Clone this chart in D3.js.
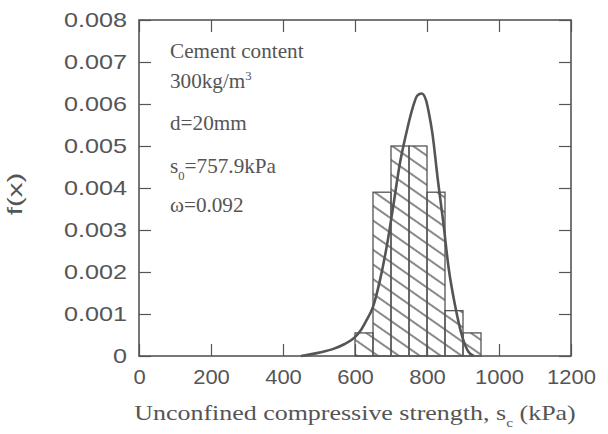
<!DOCTYPE html>
<html>
<head>
<meta charset="utf-8">
<script src="https://cdn.jsdelivr.net/npm/d3@7"></script>
<style>
  body { margin: 0; background: #fff; }
  svg { display: block; }
</style>
</head>
<body>
<svg width="608" height="434"></svg>
<script>
// histogram bins (kPa) and their density
const binLo = [600, 650, 700, 750, 800, 850, 900];
const binHi = [650, 700, 750, 800, 850, 900, 950];
const density = [0.00055, 0.0039, 0.005, 0.005, 0.0039, 0.00108, 0.00055];

// fitted curve
const curveX = [450, 500, 540, 570, 600, 615, 630, 650, 670, 690, 705, 725, 745, 760, 773, 785, 797, 805, 815, 830, 845, 860, 878, 900, 915, 930];
const curveY = [0, 0.00008, 0.00017, 0.00028, 0.00045, 0.0006, 0.00082, 0.00117, 0.00183, 0.0027, 0.0035, 0.0046, 0.0054, 0.0059, 0.0062, 0.00625, 0.0061, 0.0058, 0.0053, 0.0042, 0.0032, 0.0021, 0.0012, 0.0004, 0.0001, 0];

const xTicks = [0, 200, 400, 600, 800, 1000, 1200];
const yTicks = [0, 0.001, 0.002, 0.003, 0.004, 0.005, 0.006, 0.007, 0.008];

// text runs: [text, 'sub' | 'sup' | undefined]
const xTitleRuns = [['Unconfined compressive strength, s'], ['c', 'sub'], ['\u00a0(kPa)']];
const noteRuns = [
  [['Cement content']],
  [['300kg/m'], ['3', 'sup']],
  [['d=20mm']],
  [['s'], ['0', 'sub'], ['=757.9kPa']],
  [['\u03c9=0.092']]
];
const noteY = [38, 68, 110, 153, 192];

const svg = d3.select('svg');
const ink = '#555';
const serif = '"Liberation Serif", "Times New Roman", serif';
const sans = '"Liberation Sans", Arial, sans-serif';
const margin = { top: 20, right: 37, bottom: 78, left: 139 };
const width = +svg.attr('width');
const height = +svg.attr('height');
const innerWidth = width - margin.left - margin.right;
const innerHeight = height - margin.top - margin.bottom;

const xScale = d3.scaleLinear().domain([0, 1200]).range([0, innerWidth]);
const yScale = d3.scaleLinear().domain([0, 0.008]).range([innerHeight, 0]);

// widen glyphs horizontally about the text's own x, the scanned lettering is wide
const widen = (sel, k) => sel.each(function () {
  const x = +(this.getAttribute('x') || 0);
  d3.select(this).attr('transform', `translate(${x * (1 - k)},0) scale(${k},1)`);
});

// lay runs out as separate text elements, returns total width
const writeRuns = (parent, runs, size, small) => {
  let x = 0;
  runs.forEach(([s, kind]) => {
    const t = parent.append('text')
      .attr('x', x)
      .attr('y', kind === 'sup' ? -8 : kind === 'sub' ? 7 : 0)
      .attr('fill', ink)
      .attr('font-family', serif)
      .attr('font-size', kind ? small : size)
      .text(s);
    x += t.node().getComputedTextLength();
  });
  return x;
};

const defs = svg.append('defs');
defs.append('pattern')
  .attr('id', 'hatch')
  .attr('patternUnits', 'userSpaceOnUse')
  .attr('width', 12)
  .attr('height', 12)
  .attr('patternTransform', 'rotate(35)')
  .append('line')
  .attr('x1', 0).attr('y1', 6).attr('x2', 12).attr('y2', 6)
  .attr('stroke', ink)
  .attr('stroke-width', 1.4);

const g = svg.append('g')
  .attr('transform', `translate(${margin.left}, ${margin.top})`);

// bars
g.selectAll('rect.bar')
  .data(density)
  .join('rect')
  .attr('class', 'bar')
  .attr('x', (d, i) => xScale(binLo[i]))
  .attr('width', (d, i) => xScale(binHi[i]) - xScale(binLo[i]))
  .attr('y', d => yScale(d))
  .attr('height', d => yScale(0) - yScale(d))
  .attr('fill', 'url(#hatch)')
  .attr('stroke', ink)
  .attr('stroke-width', 1.3);

// curve
const line = d3.line()
  .x((d, i) => xScale(curveX[i]))
  .y(d => yScale(d))
  .curve(d3.curveMonotoneX);

g.append('path')
  .attr('d', line(curveY))
  .attr('fill', 'none')
  .attr('stroke', ink)
  .attr('stroke-width', 2.6);

// axes, ticks pointing in
const styleAxis = sel => {
  sel.selectAll('.domain').remove();
  sel.selectAll('.tick line').attr('stroke', ink).attr('stroke-width', 1.2);
  sel.selectAll('text')
    .attr('fill', ink)
    .attr('font-family', sans)
    .attr('font-size', 20);
};

const yAxisG = g.append('g')
  .call(d3.axisLeft(yScale).tickValues(yTicks).tickSize(-12).tickPadding(12)
    .tickFormat(d => d === 0 ? '0' : d3.format('.3f')(d)))
  .call(styleAxis);
widen(yAxisG.selectAll('text'), 1.26);

const xAxisG = g.append('g')
  .attr('transform', `translate(0, ${innerHeight})`)
  .call(d3.axisBottom(xScale).tickValues(xTicks).tickSize(-12).tickPadding(14)
    .tickFormat(d3.format('d')))
  .call(styleAxis);
widen(xAxisG.selectAll('text'), 1.1);

// mirror ticks on top and right, no labels
g.append('g')
  .call(d3.axisTop(xScale).tickValues(xTicks).tickSize(-12))
  .call(styleAxis)
  .selectAll('text').remove();
g.append('g')
  .attr('transform', `translate(${innerWidth}, 0)`)
  .call(d3.axisRight(yScale).tickValues(yTicks).tickSize(-12))
  .call(styleAxis)
  .selectAll('text').remove();

// frame
g.append('rect')
  .attr('width', innerWidth)
  .attr('height', innerHeight)
  .attr('fill', 'none')
  .attr('stroke', ink)
  .attr('stroke-width', 1.6);

// x axis title
const xTitleG = g.append('g');
const titleW = writeRuns(xTitleG, xTitleRuns, 22, 13) * 1.18;
xTitleG.attr('transform', `translate(${innerWidth / 2 - titleW / 2}, ${innerHeight + 64}) scale(1.18,1)`);

// y axis title
g.append('text')
  .attr('transform', `translate(-117, ${innerHeight / 2 + 6}) rotate(-90) scale(1.4,1)`)
  .attr('text-anchor', 'middle')
  .attr('fill', ink)
  .attr('font-family', sans)
  .attr('font-size', 21)
  .text('f(x)');

// annotation
noteRuns.forEach((runs, i) => {
  const ng = g.append('g')
    .attr('transform', `translate(31, ${noteY[i]}) scale(1.06,1)`);
  writeRuns(ng, runs, 20, 12);
});
</script>
</body>
</html>
